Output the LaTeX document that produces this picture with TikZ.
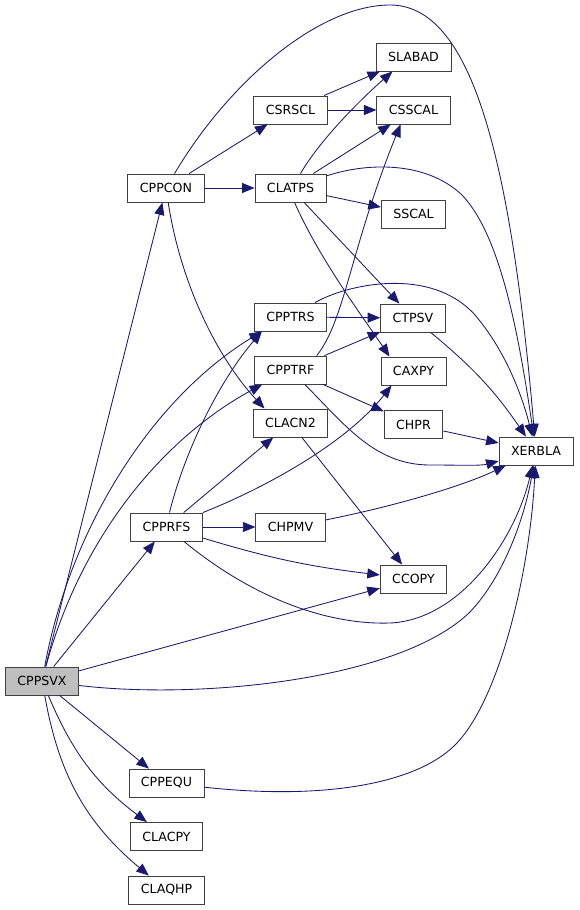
\documentclass[tikz,border=0pt]{standalone}
\usepackage{fontspec}
\setsansfont{DejaVu Sans}
\usetikzlibrary{arrows.meta}
\definecolor{cedge}{HTML}{191970}
\definecolor{cborder}{HTML}{404040}
\definecolor{cmain}{HTML}{BFBFBF}
\tikzset{
  every picture/.style={font=\sffamily\fontsize{12.6}{15}\selectfont},
  fn/.style={draw=cborder, fill=#1, line width=0.9pt, minimum height=28pt, inner xsep=12pt, inner ysep=0pt},
  fn/.default=white,
  call/.style={-{Triangle[length=12.5pt,width=10pt]}, draw=cedge, line width=0.85pt},
}

\begin{document}
\begin{tikzpicture}[x=1pt, y=-1pt]
  \useasboundingbox (0,0) rectangle (579,910);
  % caller in grey, callees where the graph puts them
  \node[fn=cmain] (CPPSVX) at (42,681) {CPPSVX};
  \foreach \name/\x/\y in {CPPCON/166/188, CSRSCL/290.5/110, CLATPS/290.5/188,
      SLABAD/413.5/57, CSSCAL/413.5/110, SSCAL/413.5/214, CPPTRS/290.5/317,
      CTPSV/413/318, CPPTRF/290.5/370, CAXPY/413.5/371, CLACN2/290.5/423,
      CHPR/413.5/424.5, XERBLA/536/451, CPPRFS/166.5/527, CHPMV/290.5/527,
      CCOPY/413.5/579, CPPEQU/166.5/783, CLACPY/166.5/836.5, CLAQHP/166.5/890}
    \node[fn] (\name) at (\x,\y) {\name};
  % straight calls
  \foreach \a/\b in {CPPSVX/CPPCON, CPPSVX/CPPRFS, CPPSVX/CCOPY, CPPSVX/CPPEQU,
      CPPCON/CSRSCL, CPPCON/CLATPS, CSRSCL/SLABAD, CSRSCL/CSSCAL,
      CLATPS/CSSCAL, CLATPS/SSCAL, CLATPS/CTPSV, CPPTRS/CTPSV, CPPTRF/CTPSV,
      CPPTRF/CHPR, CHPR/XERBLA, CLACN2/CCOPY, CPPRFS/CLACN2, CPPRFS/CHPMV}
    \draw[call] (\a) -- (\b);
  % bent calls
  \draw[call] (CPPSVX) .. controls (70,530) and (150,400) .. ([xshift=8pt]CPPTRS.south west);
  \draw[call] (CPPSVX) .. controls (80,540) and (160,440) .. ([xshift=8pt]CPPTRF.south west);
  \draw[call] (CPPSVX) to[bend right=15] (CLACPY);
  \draw[call] (CPPSVX) to[bend right=20] (CLAQHP);
  \draw[call] (CPPSVX) .. controls (200,700) and (400,680) .. (470,612)
                       .. controls (505,575) and (525,515) .. (XERBLA);
  \draw[call] (CPPCON) .. controls (230,80) and (320,5) .. (390,5)
                       .. controls (470,5) and (510,150) .. (XERBLA);
  \draw[call] (CPPCON) .. controls (180,280) and (215,355) .. ([xshift=-26pt]CLACN2.north);
  \draw[call] ([xshift=10pt]CLATPS.north) .. controls (320,140) and (360,100) .. ([xshift=-21pt]SLABAD.south);
  \draw[call] ([xshift=4pt]CLATPS.south) .. controls (320,260) and (365,320) .. ([xshift=-24pt]CAXPY.north);
  \draw[call] (CLATPS) .. controls (365,163) and (425,160) .. (462,195)
                       .. controls (500,235) and (518,330) .. (XERBLA);
  \draw[call] (CPPTRS) .. controls (345,285) and (430,265) .. (475,315)
                       .. controls (505,350) and (522,395) .. (XERBLA);
  \draw[call] (CTPSV) to[bend left=8] (XERBLA);
  \draw[call] ([xshift=-10pt]CPPTRF.north east) .. controls (345,320) and (350,250) .. ([xshift=-13pt]CSSCAL.south);
  \draw[call] (CPPTRF) .. controls (345,425) and (375,465) .. (430,465)
                       .. controls (460,465) and (480,466) .. (XERBLA);
  \draw[call] ([xshift=3pt]CPPRFS.north) .. controls (185,450) and (220,380) .. ([xshift=8pt]CPPTRS.south west);
  \draw[call] (CPPRFS.north east) .. controls (260,490) and (345,445) .. ([xshift=11pt]CAXPY.south west);
  \draw[call] (CPPRFS) to[bend right=5] (CCOPY);
  \draw[call] (CPPRFS) .. controls (255,600) and (330,625) .. (390,623)
                       .. controls (460,620) and (515,540) .. (XERBLA);
  \draw[call] (CHPMV) .. controls (400,505) and (465,485) .. (XERBLA);
  \draw[call] (CPPEQU) .. controls (320,800) and (415,785) .. (455,745)
                       .. controls (500,700) and (530,570) .. (XERBLA);
\end{tikzpicture}
\end{document}
